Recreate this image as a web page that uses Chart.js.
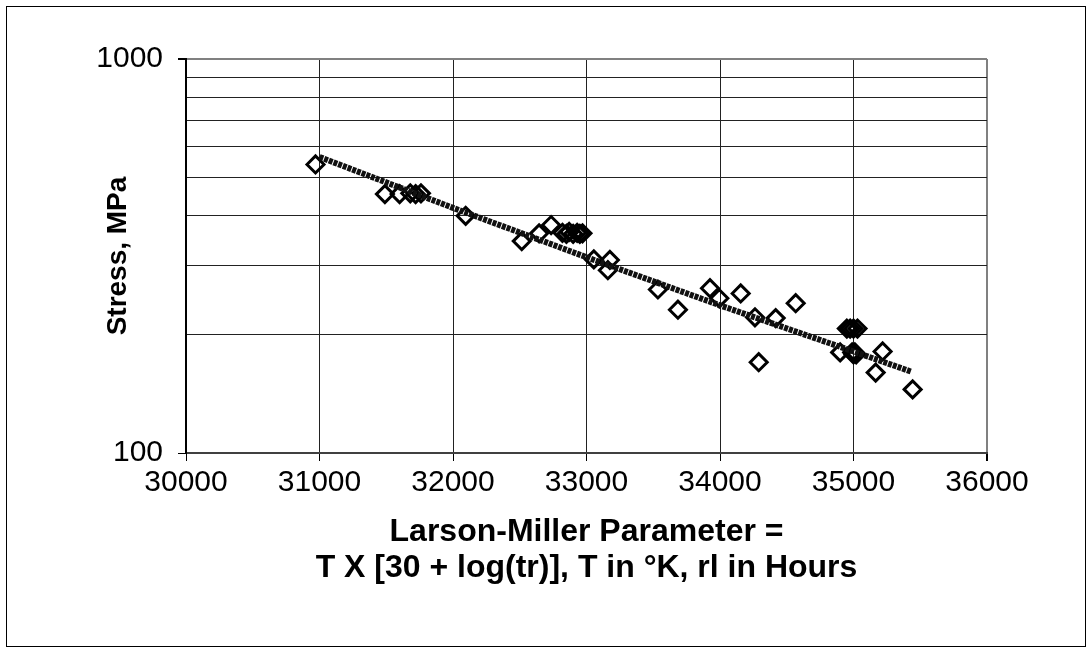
<!DOCTYPE html>
<html lang="en">
<head>
  <meta charset="UTF-8">
  <title>Larson-Miller Parameter - Stress</title>
  <script src="https://cdn.jsdelivr.net/npm/chart.js@4"></script>
  <style>
    html, body { margin: 0; padding: 0; background: #fff; }
    #wrap { position: relative; width: 1089px; height: 648px; }
    #frame {
      position: absolute;
      left: 6px; top: 6px;
      width: 1080px; height: 641px;
      border: 1px solid #000;
      box-sizing: border-box;
      pointer-events: none;
    }
    #chart { position: absolute; left: 0; top: 0; }
  </style>
</head>
<body>
  <div id="wrap">
    <canvas id="chart" width="1089" height="648"></canvas>
    <div id="frame"></div>
  </div>

  <script>
// Test points (Larson-Miller parameter, stress in MPa)
var lmpValues = [
  30970, 31490, 31600, 31680, 31720, 31760, 32095,
  32515, 32645, 32735, 32820, 32850, 32870, 32900, 32930, 32950, 32970,
  33055, 33175, 33160, 33535, 33685, 33925, 33995, 34155, 34262, 34290,
  34417, 34567, 34950, 34975, 35000, 35030, 34900, 34990, 35000, 35010, 35020,
  35218, 35166, 35443
];
var stressValues = [
  540, 454, 454, 456, 454, 456, 400,
  345, 361, 379, 362, 360, 364, 360, 362, 360, 361,
  310, 309, 291, 260, 231, 262, 247, 254, 221, 170,
  220, 240, 207, 207, 207, 207, 180, 180, 178, 180, 178,
  181, 160, 145
];

// Trend line
var trendLmp = [31000, 32000, 33000, 34000, 35000, 35430];
var trendStress = [564, 419, 314, 237, 181, 161];

// Axes
var xTickValues = [30000, 31000, 32000, 33000, 34000, 35000, 36000];
var yTickValues = [100, 200, 300, 400, 500, 600, 700, 800, 900, 1000];
var yLabelValues = [100, 1000];

var FONT = "'Liberation Sans', Arial, Helvetica, sans-serif";

var points = [];
for (var i = 0; i < lmpValues.length; i++) {
  points.push({ x: lmpValues[i], y: stressValues[i] });
}
var trend = [];
for (var j = 0; j < trendLmp.length; j++) {
  trend.push({ x: trendLmp[j], y: trendStress[j] });
}

new Chart(document.getElementById("chart"), {
  type: "scatter",
  data: {
    datasets: [{
      label: "Trend",
      type: "line",
      data: trend,
      borderColor: "#111",
      borderWidth: 6,
      borderDash: [4, 1],
      pointRadius: 0,
      fill: false,
      tension: 0,
      order: 0
    }, {
      label: "Stress",
      data: points,
      pointStyle: "rectRot",
      pointRadius: 8.5,
      borderColor: "#000",
      borderWidth: 3,
      backgroundColor: "rgba(0,0,0,0)",
      order: 1
    }]
  },
  options: {
    responsive: false,
    animation: false,
    layout: { padding: { left: 0, top: 59, right: 102, bottom: 0 } },
    plugins: { legend: { display: false }, tooltip: { enabled: false } },
    scales: {
      x: {
        type: "linear",
        min: 30000,
        max: 36000,
        afterBuildTicks: function(s) {
          s.ticks = xTickValues.map(function(v) { return { value: v }; });
        },
        afterFit: function(s) { s.height = 195; },
        ticks: {
          color: "#000",
          padding: 4,
          autoSkip: false,
          maxRotation: 0,
          font: { family: FONT, size: 30 },
          callback: function(v) { return String(v); }
        },
        grid: {
          color: function(c) { return c.tick && c.tick.value === 36000 ? "#808080" : "#222"; },
          lineWidth: function(c) { return c.tick && c.tick.value === 36000 ? 2 : 1; },
          tickColor: "#000",
          tickLength: 8
        },
        border: { color: "#404040", width: 2 },
        title: {
          display: true,
          text: ["Larson-Miller Parameter =", "T X [30 + log(tr)], T in °K, rl in Hours"],
          color: "#000",
          font: { family: FONT, size: 32, weight: "bold", lineHeight: 1.125 },
          padding: { top: 0, bottom: 62 }
        }
      },
      y: {
        type: "logarithmic",
        min: 100,
        max: 1000,
        afterBuildTicks: function(s) {
          s.ticks = yTickValues.map(function(v) { return { value: v }; });
        },
        afterFit: function(s) { s.width = 186; },
        ticks: {
          color: "#000",
          padding: 15,
          autoSkip: false,
          font: { family: FONT, size: 30 },
          callback: function(v) { return yLabelValues.indexOf(v) >= 0 ? String(v) : ""; }
        },
        grid: {
          color: function(c) { return c.tick && c.tick.value === 1000 ? "#808080" : "#222"; },
          lineWidth: function(c) { return c.tick && c.tick.value === 1000 ? 2 : 1; },
          tickColor: function(c) {
            return c.tick && yLabelValues.indexOf(c.tick.value) >= 0 ? "#000" : "rgba(0,0,0,0)";
          },
          tickLength: 8
        },
        border: { color: "#000", width: 2 },
        title: {
          display: true,
          text: "Stress, MPa",
          color: "#000",
          font: { family: FONT, size: 28, weight: "bold", lineHeight: 1.2 },
          padding: { top: 101, bottom: 0 }
        }
      }
    }
  }
});
  </script>
</body>
</html>
